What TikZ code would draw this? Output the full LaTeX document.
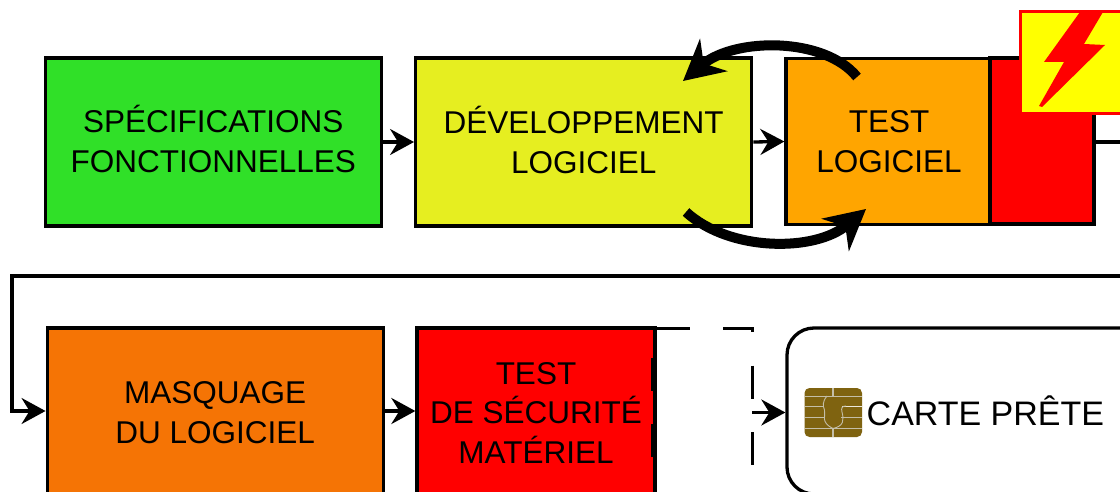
\documentclass[tikz,border=0pt]{standalone}
\usepackage{fontspec}
\setmainfont{Liberation Sans}
\usetikzlibrary{arrows.meta}
\definecolor{cgreen}{HTML}{30E028}
\definecolor{cyellow}{HTML}{E6EE20}
\definecolor{corange}{HTML}{FFA500}
\definecolor{cdark}{HTML}{F57405}
\definecolor{cchip}{HTML}{7F6310}
\definecolor{cchipline}{HTML}{C4BEA8}
\definecolor{csign}{HTML}{FFFF00}
\tikzset{
  stagebox/.style={draw=black,line width=3.3pt,inner sep=0pt,align=center,
    font=\fontsize{31.5}{39.5}\selectfont},
  flow/.style={draw=black,line width=3.3pt,-{Stealth[length=24pt,width=26pt,inset=8pt]}},
  plain/.style={draw=black,line width=3.3pt},
  loopline/.style={draw=black,line width=10pt,-{Stealth[length=40pt,width=42pt,inset=13pt]}},
  chipline/.style={draw=cchipline,line width=0.9pt},
}
\begin{document}
\begin{tikzpicture}[x=1pt,y=-1pt]
\useasboundingbox (0,0) rectangle (1120,492);
\clip (0,0) rectangle (1120,492);
% top row
\node[stagebox,fill=cgreen,minimum width=336pt,minimum height=168pt,text depth=6pt] (spec) at (213.3,142) {SPÉCIFICATIONS\\FONCTIONNELLES};
\node[stagebox,fill=cyellow,minimum width=336pt,minimum height=168pt,text depth=4pt] (dev) at (583.7,142) {DÉVELOPPEMENT\\LOGICIEL};
\node[stagebox,fill=corange,minimum width=204pt,minimum height=166pt] (test) at (888,141.5) {\hspace{2pt}TEST\\\hspace{2pt}LOGICIEL};
\node[stagebox,fill=red,minimum width=104pt,minimum height=166pt] (redbox) at (1042,141) {};
% bottom row
\node[stagebox,fill=cdark,minimum width=336pt,minimum height=166pt] (mask) at (215.2,411) {\rule{0pt}{25.2pt}MASQUAGE\\DU LOGICIEL};
\node[stagebox,fill=red,minimum width=238pt,minimum height=166pt] (hw) at (536,411) {\rule{0pt}{25pt}TEST\\DE SÉCURITÉ\\MATÉRIEL};
\node[draw=black,line width=3.3pt,rounded corners=27pt,fill=white,minimum width=360pt,minimum height=166pt,inner sep=0pt] (card) at (967,411) {};
\node[inner sep=0pt,font=\fontsize{34}{40}\selectfont,anchor=west] (cardtext) at (866.5,411) {CARTE PRÊTE};
% warning sign
\node[draw=red,fill=csign,line width=3pt,minimum width=103pt,minimum height=102pt,inner sep=0pt] (sign) at (1071.5,62.5) {};
\fill[red,line join=round] (1080,12) -- (1103,12) -- (1084,44) -- (1105,45) -- (1042,107) -- (1039,106) -- (1064,62) -- (1044,62) -- cycle;
% connectors
\draw[flow] (spec.east) -- (dev.west);
\draw[flow] (dev.east) -- (test.west);
\coordinate (outA) at (1125,142);
\coordinate (outB) at (1125,276);
\coordinate (outC) at (12,276);
\coordinate (outD) at (12,411);
\draw[plain] (redbox.east |- outA) -- (outA);
\draw[flow] (outB) -- (outC) -- (outD) -- (mask.west);
\draw[flow] (mask.east) -- (hw.west);
% dashed frame
\coordinate (dA) at (652.5,457);
\coordinate (dB) at (652.5,328);
\coordinate (dC) at (752,328);
\coordinate (dD) at (752,470);
\draw[draw=black,line width=3pt,dash pattern=on 33pt off 33.5pt] (dA) -- (dB) -- (dC) -- (dD);
\coordinate (dE) at (752,412.5);
\draw[flow] (dE) -- (card.west |- dE);
% loop arrows
\coordinate (lA) at (857,77);
\coordinate (lB) at (683,81);
\coordinate (lC) at (686,212);
\coordinate (lD) at (866,209);
\draw[loopline] (lA) .. controls (825,37) and (735,37) .. (lB);
\draw[loopline] (lC) .. controls (730,252) and (815,252) .. (lD);
% chip
\fill[cchip,rounded corners=5pt] (804.5,388) rectangle (862,437);
\draw[chipline] (804.5,396) -- (862,396);
\draw[chipline] (804.5,406.5) -- (824,406.5);
\draw[chipline] (804.5,417.5) -- (824,417.5);
\draw[chipline] (804.5,428.5) -- (862,428.5);
\draw[chipline] (841,417.5) -- (862,417.5);
\draw[draw=white!85!cchip,line width=1.1pt] (842,406.5) -- (862,406.5);
\draw[chipline,line width=1.4pt] (833,388) -- (833,396);
\draw[chipline,line width=1.4pt] (833,428.5) -- (833,437);
\draw[chipline] (827,396) .. controls (822,402) and (823,406) .. (824.5,410)
  .. controls (826,416) and (820,422) .. (833,428.5)
  .. controls (844,426) and (844,420) .. (842,412)
  .. controls (841,408) and (842,406) .. (846,406);
\end{tikzpicture}
\end{document}
